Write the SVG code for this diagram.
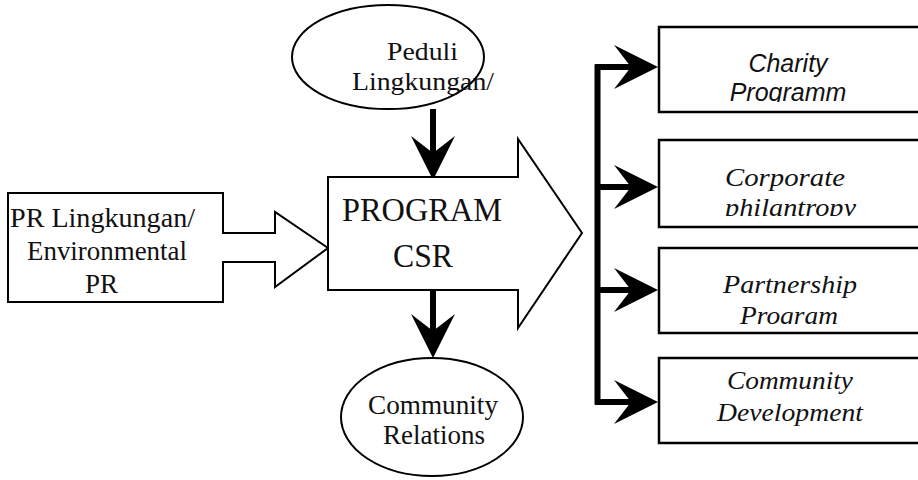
<svg xmlns="http://www.w3.org/2000/svg" width="918" height="480" viewBox="0 0 918 480">
<style>
.sh{fill:#fff;stroke:#000;stroke-width:2}
.bx{fill:#fff;stroke:#000;stroke-width:2.5}
.serif{font-family:"Liberation Serif","Times New Roman",serif;fill:#111}
.sans{font-family:"Liberation Sans",Arial,sans-serif;fill:#111}
.it{font-style:italic}
.con{stroke:#000;stroke-width:6;fill:none}
</style>
<defs>
<marker id="ah" markerUnits="userSpaceOnUse" viewBox="-46 -24 48 48" refX="-26" refY="0" markerWidth="48" markerHeight="48" orient="auto">
<path d="M0,0 L-44,-22 L-27,0 L-44,22 Z" fill="#000"/>
</marker>
<clipPath id="c1"><rect x="659" y="27" width="270" height="75"/></clipPath>
<clipPath id="c2"><rect x="659" y="140" width="270" height="76"/></clipPath>
<clipPath id="c3"><rect x="659" y="248" width="270" height="76"/></clipPath>
</defs>

<g id="connectors">
<line class="con" x1="433" y1="109" x2="433" y2="154" marker-end="url(#ah)"/>
<line class="con" x1="433" y1="291" x2="433" y2="332" marker-end="url(#ah)"/>
<line class="con" x1="597.5" y1="64.5" x2="597.5" y2="404.5"/>
<line class="con" x1="595" y1="67" x2="632" y2="67" marker-end="url(#ah)"/>
<line class="con" x1="595" y1="187" x2="632" y2="187" marker-end="url(#ah)"/>
<line class="con" x1="595" y1="290" x2="632" y2="290" marker-end="url(#ah)"/>
<line class="con" x1="595" y1="402" x2="632" y2="402" marker-end="url(#ah)"/>
</g>

<g id="peduli">
<ellipse class="sh" cx="388" cy="57" rx="96" ry="52"/>
<text class="serif" x="387" y="60" font-size="26" textLength="71" lengthAdjust="spacingAndGlyphs">Peduli</text>
<text class="serif" x="352" y="90" font-size="26" textLength="142" lengthAdjust="spacingAndGlyphs">Lingkungan/</text>
</g>

<g id="pr-lingkungan">
<path class="sh" d="M8,193 H223 V233 H275 V212 L328,248 L275,287 V262 H223 V302 H8 Z"/>
<text class="serif" x="10" y="227" font-size="27" textLength="185" lengthAdjust="spacingAndGlyphs">PR Lingkungan/</text>
<text class="serif" x="27" y="260" font-size="27" textLength="160" lengthAdjust="spacingAndGlyphs">Environmental</text>
<text class="serif" x="85" y="293" font-size="27" textLength="33" lengthAdjust="spacingAndGlyphs">PR</text>
</g>

<g id="program-csr">
<polygon class="sh" points="328,177 518,177 518,139 582,233 518,328 518,290 328,290"/>
<text class="serif" x="342" y="221" font-size="34" textLength="160" lengthAdjust="spacingAndGlyphs">PROGRAM</text>
<text class="serif" x="393" y="267" font-size="34" textLength="60" lengthAdjust="spacingAndGlyphs">CSR</text>
</g>

<g id="community-relations">
<ellipse class="sh" cx="432" cy="417" rx="91" ry="59"/>
<text class="serif" x="368" y="414" font-size="27" textLength="130" lengthAdjust="spacingAndGlyphs">Community</text>
<text class="serif" x="383" y="444" font-size="27" textLength="102" lengthAdjust="spacingAndGlyphs">Relations</text>
</g>

<g id="charity">
<rect class="bx" x="659" y="27" width="270" height="85"/>
<g clip-path="url(#c1)">
<text class="sans it" x="788" y="72" font-size="25" text-anchor="middle">Charity</text>
<text class="sans it" x="788" y="101" font-size="25" text-anchor="middle">Programm</text>
</g>
</g>

<g id="corporate">
<rect class="bx" x="659" y="140" width="270" height="87"/>
<g clip-path="url(#c2)">
<text class="serif it" x="725" y="186" font-size="26" textLength="120" lengthAdjust="spacingAndGlyphs">Corporate</text>
<text class="serif it" x="725" y="216" font-size="26" textLength="131" lengthAdjust="spacingAndGlyphs">philantropy</text>
</g>
</g>

<g id="partnership">
<rect class="bx" x="659" y="248" width="270" height="85"/>
<g clip-path="url(#c3)">
<text class="serif it" x="723" y="293" font-size="26" textLength="134" lengthAdjust="spacingAndGlyphs">Partnership</text>
<text class="serif it" x="740" y="324" font-size="26" textLength="98" lengthAdjust="spacingAndGlyphs">Program</text>
</g>
</g>

<g id="community-development">
<rect class="bx" x="659" y="358" width="270" height="85"/>
<text class="serif it" x="727" y="389" font-size="26" textLength="126" lengthAdjust="spacingAndGlyphs">Community</text>
<text class="serif it" x="717" y="421" font-size="26" textLength="146" lengthAdjust="spacingAndGlyphs">Development</text>
</g>
</svg>
